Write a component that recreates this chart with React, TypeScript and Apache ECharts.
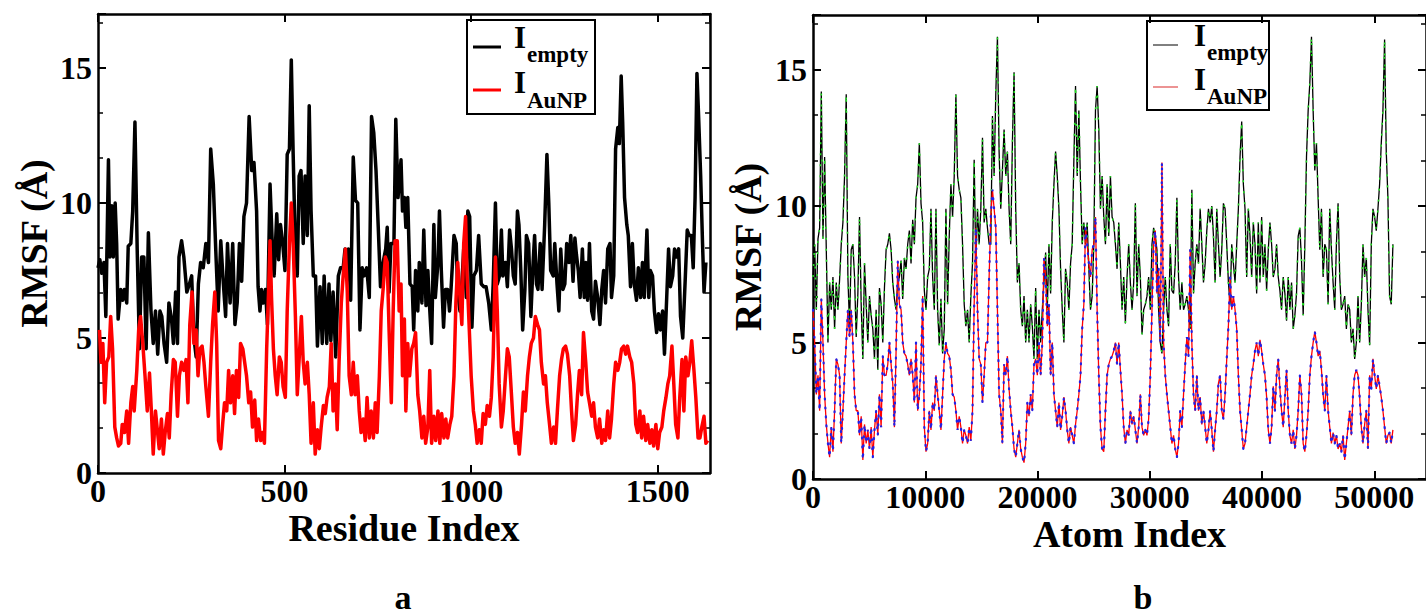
import React, { useEffect, useRef } from 'react';
import * as echarts from 'echarts';

// ---------- Panel a : RMSF per residue ----------
const residueEmpty: [number, number][] = [
  [0,7.6],[5,7.9],[10,7.4],[16,7.8],[21,5.8],[28,11.6],[32,8.0],[37,9.9],[41,8.0],[46,10.0],[50,8.5],[54,5.7],[61,6.8],[66,6.4],[71,6.8],[77,6.3],[81,8.4],[88,8.5],[93,9.7],[99,13.0],
  [105,8.3],[111,4.6],[117,8.0],[123,8.0],[129,4.6],[135,8.9],[142,6.0],[148,4.8],[154,6.0],[160,4.4],[166,6.0],[171,5.8],[177,4.8],[184,4.1],[190,6.3],[197,5.7],[202,4.8],[208,6.7],[213,4.8],[217,8.0],
  [224,8.6],[230,8.0],[238,6.7],[245,7.0],[251,7.3],[257,5.0],[263,4.3],[269,7.0],[275,7.8],[282,7.6],[289,8.5],[296,7.8],[302,12.0],[309,10.7],[316,8.1],[322,6.0],[329,8.6],[336,7.0],[342,5.8],[347,8.5],
  [354,6.3],[361,8.5],[367,5.5],[373,6.3],[379,8.5],[385,7.1],[391,9.5],[398,10.0],[405,13.2],[412,11.2],[418,11.5],[425,9.7],[429,6.9],[434,6.0],[438,6.8],[443,6.3],[449,6.8],[454,5.5],[461,10.7],[467,8.5],
  [472,7.3],[479,9.6],[484,7.9],[489,9.2],[495,8.5],[501,7.5],[507,11.8],[513,12.0],[518,15.3],[523,11.8],[528,8.8],[534,7.3],[539,11.0],[544,11.2],[550,8.5],[555,11.0],[561,8.8],[566,13.6],[571,9.7],[577,7.3],
  [583,7.3],[588,4.7],[595,6.9],[601,4.8],[606,7.3],[613,4.8],[619,7.0],[624,4.9],[630,6.7],[637,4.3],[644,7.3],[650,7.6],[657,7.6],[662,8.3],[666,7.3],[671,8.3],[677,6.4],[684,11.7],[690,10.1],[696,10.0],
  [702,5.3],[708,7.6],[713,7.3],[720,7.6],[727,6.5],[733,13.2],[739,12.6],[745,11.2],[751,9.1],[757,6.9],[764,7.8],[771,8.3],[775,9.1],[780,6.7],[785,8.5],[793,8.5],[798,13.1],[804,10.2],
  [812,11.6],[816,9.7],[821,10.2],[825,9.1],[830,10.2],[836,7.0],[842,6.9],[846,5.3],[851,7.5],[857,6.0],[861,7.8],[868,6.3],[873,9.0],[879,6.2],[884,7.5],[888,6.3],[894,4.8],[900,9.2],[904,6.5],[911,7.8],
  [915,9.7],[920,7.5],[926,5.4],[931,6.8],[937,6.8],[942,6.0],[946,6.8],[954,8.8],[960,8.5],[964,6.7],[970,6.0],[975,7.0],[980,8.3],[987,6.5],[991,9.7],[996,9.5],[1002,5.4],[1007,7.3],[1014,7.5],[1020,8.8],
  [1027,7.0],[1034,6.9],[1040,6.9],[1047,6.3],[1054,5.3],[1059,7.0],[1065,10.0],[1070,7.0],[1076,7.3],[1081,9.0],[1085,7.3],[1092,7.8],[1097,6.9],[1103,9.0],[1108,8.3],[1113,7.3],[1118,7.0],[1124,9.7],[1128,9.2],[1133,7.5],
  [1138,5.3],[1144,6.8],[1148,8.8],[1154,8.5],[1160,5.8],[1166,7.8],[1170,8.8],[1175,7.0],[1179,6.8],[1185,8.5],[1190,6.8],[1197,9.2],[1203,11.8],[1208,10.0],[1213,7.5],[1220,7.3],[1224,8.5],[1230,7.0],[1235,6.0],[1240,8.3],
  [1246,6.8],[1251,7.0],[1256,8.5],[1262,7.8],[1267,8.8],[1273,7.1],[1278,8.7],[1282,8.1],[1287,7.5],[1292,6.5],[1298,8.3],[1303,6.5],[1307,7.8],[1312,6.4],[1317,8.5],[1323,6.0],[1328,5.7],[1333,7.1],[1339,6.5],[1345,5.5],
  [1350,6.8],[1355,7.5],[1360,6.3],[1366,8.3],[1372,8.5],[1376,6.5],[1382,7.3],[1387,12.0],[1393,12.8],[1397,12.2],[1402,14.7],[1406,13.0],[1411,10.2],[1417,9.2],[1421,8.8],[1427,6.9],[1432,8.5],[1437,7.0],[1443,6.4],[1448,7.6],
  [1454,6.5],[1459,7.8],[1464,6.5],[1471,9.0],[1476,6.5],[1480,7.5],[1486,7.3],[1491,6.0],[1497,5.2],[1502,5.9],[1507,5.3],[1513,6.0],[1518,4.4],[1524,6.5],[1529,8.3],[1534,6.9],[1540,7.3],[1545,8.3],[1550,8.0],[1556,8.3],
  [1561,5.8],[1567,5.0],[1574,7.3],[1579,9.0],[1584,8.8],[1590,8.8],[1595,7.6],[1600,10.2],[1605,14.8],[1609,13.4],[1615,11.0],[1620,8.5],[1624,6.7],[1629,7.8],
];

const residueAuNP: [number, number][] = [
  [4,5.3],[8,4.1],[13,4.8],[18,2.6],[23,4.1],[29,4.3],[34,5.8],[39,4.6],[45,1.7],[50,1.3],[55,1.0],[61,1.1],[65,1.8],[71,1.5],[77,2.3],[82,1.1],[88,2.6],[93,3.2],[97,2.3],[104,3.8],
  [109,5.3],[114,5.8],[120,4.8],[126,3.6],[132,2.3],[138,3.7],[143,2.3],[148,0.7],[154,2.3],[159,1.6],[164,0.9],[170,2.0],[175,0.7],[180,1.5],[186,2.2],[191,1.3],[196,2.9],[202,4.2],[207,4.1],[213,2.1],
  [218,3.6],[224,4.1],[230,3.8],[236,4.2],[241,2.6],[246,5.5],[252,6.7],[257,4.8],[263,5.3],[268,3.6],[273,4.6],[279,4.7],[284,4.1],[289,3.2],[296,2.1],[302,4.1],[307,5.5],[313,6.7],[318,4.8],[323,1.2],
  [329,0.9],[334,1.8],[339,2.6],[345,2.3],[350,3.8],[355,2.6],[361,3.6],[366,2.2],[371,3.8],[377,2.8],[382,4.8],[388,4.6],[393,4.1],[398,3.6],[404,2.6],[409,3.0],[414,1.7],[420,2.7],[425,1.2],[430,2.0],
  [436,1.2],[441,1.5],[446,1.1],[452,4.6],[457,6.7],[461,8.6],[465,6.5],[470,4.6],[475,3.6],[480,2.9],[486,4.3],[491,4.1],[496,3.2],[502,2.8],[507,6.0],[513,8.5],[518,10.0],[523,8.5],[529,5.8],[534,2.9],
  [539,4.2],[545,5.8],[550,4.1],[555,3.3],[561,4.1],[566,2.9],[571,1.1],[577,2.6],[582,0.7],[588,1.6],[593,0.9],[598,1.7],[604,2.5],[609,2.2],[614,2.8],[620,3.2],[625,4.8],[630,2.3],[636,3.3],[641,1.6],
  [646,4.1],[652,6.3],[657,7.3],[663,8.3],[668,6.7],[673,3.6],[679,2.9],[684,4.1],[689,2.9],[695,3.6],[700,2.3],[705,1.5],[711,2.0],[716,1.2],[721,2.8],[727,1.3],[732,2.3],[738,1.3],[743,2.6],[748,1.5],
  [754,3.6],[759,6.0],[764,6.8],[770,8.0],[775,7.8],[780,5.3],[786,2.6],[791,6.0],[796,8.6],[802,8.6],[807,6.0],
  [812,7.0],[816,3.6],[821,5.7],[825,2.3],[830,4.8],[835,3.6],[841,4.6],[846,4.8],[851,5.2],[857,2.9],[862,2.3],[868,1.3],[873,2.1],[878,1.1],[884,1.7],[889,3.8],[894,1.1],[900,2.1],[905,1.2],[911,2.3],
  [916,1.1],[921,2.2],[927,1.3],[932,2.0],[937,1.3],[943,1.8],[948,2.1],[954,3.6],[959,6.3],[964,7.8],[970,6.5],[975,5.5],[980,8.5],[985,9.5],[989,7.3],[995,5.3],[1000,3.6],[1006,2.3],[1011,1.8],[1016,1.1],
  [1022,1.6],[1027,1.1],[1032,2.2],[1038,1.8],[1043,2.5],[1049,2.1],[1054,2.8],[1059,4.3],[1065,8.0],[1070,6.0],[1075,3.3],[1081,1.7],[1086,2.3],[1092,3.6],[1097,4.6],[1102,4.3],[1108,2.9],[1113,1.7],[1118,1.1],[1124,1.5],
  [1129,0.7],[1135,1.8],[1140,3.0],[1145,2.3],[1151,3.6],[1156,4.3],[1161,4.8],[1167,5.0],[1172,5.8],[1178,5.5],[1183,5.3],[1188,4.1],[1194,3.3],[1199,3.6],[1204,2.6],[1210,1.8],[1215,1.1],[1221,1.7],[1226,1.1],[1231,2.3],
  [1237,3.6],[1242,4.2],[1247,4.6],[1253,4.7],[1258,4.4],[1264,3.6],[1269,2.3],[1274,1.2],[1280,1.8],[1285,2.9],[1290,3.8],[1296,2.9],[1301,5.2],[1307,4.1],[1312,3.0],[1317,2.6],[1323,2.1],[1328,2.6],[1333,1.7],[1339,1.3],
  [1344,2.0],[1350,1.1],[1355,1.6],[1360,1.2],[1366,2.3],[1371,1.3],[1376,2.0],[1382,3.3],[1387,4.1],[1393,3.8],[1398,4.1],[1403,4.6],[1409,4.7],[1414,4.4],[1419,4.7],[1425,4.3],[1430,4.1],[1436,3.3],[1441,1.8],[1446,1.5],
  [1452,2.3],[1457,1.3],[1462,2.1],[1468,1.2],[1473,1.8],[1479,1.1],[1484,1.6],[1489,1.0],[1495,1.8],[1500,0.9],[1505,1.5],[1511,1.7],[1516,2.3],[1522,2.8],[1527,3.3],[1532,3.6],[1538,4.7],[1543,3.3],[1548,1.8],[1554,1.3],
  [1559,2.8],[1565,4.2],[1570,2.3],[1575,4.3],[1581,3.6],[1586,4.1],[1591,4.9],[1597,3.8],[1602,2.8],[1608,1.3],[1613,1.3],[1618,1.7],[1624,2.1],[1629,1.1],[1634,1.2],
];

// ---------- Panel b : RMSF per atom (sampled every ATOM_STEP atoms) ----------
const ATOM_STEP = 148;
const atomEmpty: number[] = [
  7.4,8.6,6.2,8.8,9.2,14.2,8.8,11.8,8.4,5.0, 7.2,6.2,7.4,5.5,7.2,6.2,7.3,8.6,9.4,11.1,
  14.1,7.4,5.6,8.4,8.6,7.4,5.2,6.8,9.6,6.4, 4.4,7.9,6.4,5.0,6.7,6.0,5.5,4.4,6.2,4.0,
  7.0,6.4,5.0,7.0,8.4,8.6,9.0,8.4,7.2,6.6, 6.2,7.2,7.4,8.0,6.6,8.1,7.7,8.6,9.1,7.9,
  9.5,8.6,10.3,10.8,12.3,10.1,9.4,6.9,6.2,7.4, 7.7,9.9,7.4,6.2,9.9,6.2,4.9,6.6,4.6,5.5,
  9.9,6.4,8.9,10.8,9.6,11.1,14.1,11.1,10.6,10.3, 8.6,6.4,5.6,6.2,5.0,6.7,7.9,11.7,7.9,9.9,
  8.6,9.9,12.5,9.4,9.9,9.2,8.6,8.6,13.3,11.1, 14.1,16.2,12.0,9.9,11.3,12.8,11.1,12.0,9.9,8.6,
  12.3,14.9,9.9,7.2,7.9,6.2,5.6,6.7,5.0,6.2, 5.0,6.4,5.6,4.4,7.0,4.4,6.2,5.0,6.2,7.2,
  8.3,6.2,8.6,6.8,9.4,10.8,12.0,11.1,9.9,7.7, 6.2,5.0,7.7,7.2,6.2,7.9,8.6,11.7,14.4,11.1,
  13.5,10.8,8.6,9.4,8.6,9.4,7.7,6.2,6.7,8.6, 13.5,14.4,12.8,9.9,11.1,9.6,8.6,10.8,8.9,11.1,
  9.6,9.4,8.6,7.7,9.4,
  7.9,6.2,7.4,5.7,7.4,8.6,7.2,6.2,7.2,10.1, 6.7,8.6,7.4,5.3,6.2,6.4,6.7,7.4,6.2,8.6,
  9.2,8.9,8.4,6.2,5.0,4.6,6.2,7.4,6.2,5.6, 8.6,6.9,6.8,7.9,10.3,7.4,6.2,7.2,6.2,6.4,
  6.7,6.2,5.5,10.6,6.8,7.9,8.6,7.9,9.9,8.6, 7.2,7.9,9.1,9.9,9.4,10.0,8.9,7.2,9.9,8.6,
  7.4,8.4,10.1,9.9,8.6,7.2,6.4,8.6,7.9,7.2, 8.6,9.9,11.8,13.1,10.8,9.9,7.4,9.9,8.9,7.4,
  9.4,8.6,6.8,9.4,7.2,9.6,7.4,8.6,6.9,8.4, 9.4,8.6,7.4,7.7,8.6,7.4,6.9,6.2,7.4,6.8,
  5.8,7.4,6.2,7.2,5.5,6.0,6.8,8.9,9.2,8.0, 6.0,8.6,11.8,13.5,14.5,16.2,13.5,11.3,12.3,10.3,
  8.4,9.9,7.4,8.6,8.4,6.4,9.9,8.4,7.2,6.2, 8.6,10.1,7.4,6.2,6.4,6.7,5.5,6.4,6.2,5.0,
  5.5,4.4,5.0,6.7,5.0,6.4,8.6,7.4,8.1,6.2, 4.9,8.6,9.9,9.6,9.1,9.9,10.8,12.3,13.5,16.1,
  12.0,10.3,6.7,6.4,8.6,
];

const atomAuNP: number[] = [
  6.2,5.0,3.1,3.8,2.5,6.6,5.0,3.1,2.0,1.3, 0.8,1.9,1.0,2.5,4.4,4.2,3.8,1.3,2.5,3.8,
  5.0,6.2,5.2,6.2,5.0,3.1,2.5,2.5,1.6,2.3, 0.7,2.0,1.3,1.8,1.1,1.9,0.8,1.8,2.5,1.6,
  3.1,1.9,4.5,3.8,3.8,4.2,5.0,4.2,3.5,1.9, 4.7,8.0,6.4,6.2,5.0,4.6,4.5,4.2,3.8,4.4,
  3.8,2.8,5.0,2.5,3.1,4.2,6.7,1.9,1.0,1.3, 2.5,1.8,2.8,2.5,3.8,3.1,2.5,1.8,3.1,4.4,
  5.0,4.6,4.5,4.0,3.1,3.0,2.5,1.8,2.3,1.9, 1.3,1.8,1.6,1.3,1.9,1.4,2.5,6.4,9.2,6.2,
  4.4,4.2,2.8,3.8,5.0,5.0,7.4,9.6,10.6,9.9, 9.2,6.2,3.1,2.5,1.3,4.2,3.8,4.5,3.3,2.5,
  1.9,1.1,0.8,1.3,1.8,1.1,0.8,0.6,1.3,2.8, 2.3,3.1,2.5,4.2,4.4,3.8,5.0,3.8,5.0,8.1,
  7.4,5.6,6.4,3.8,5.0,3.1,2.5,1.9,2.8,1.8, 2.3,3.0,2.5,1.8,1.3,1.9,1.6,1.3,2.0,2.5,
  3.1,3.8,5.5,6.4,9.2,8.6,7.9,7.4,8.4,8.6, 9.6,6.2,3.8,1.9,1.1,1.0,2.5,3.8,4.2,4.4,
  4.5,4.7,5.0,4.2,5.0,
  4.0,3.1,1.9,1.3,1.8,1.6,2.5,2.0,2.3,1.8, 1.3,1.9,3.1,1.9,1.6,1.8,1.6,2.2,3.8,6.2,
  8.6,9.1,6.8,7.7,5.0,11.6,5.0,3.8,3.1,2.5, 1.9,1.3,1.6,1.1,0.8,1.3,2.5,1.9,3.1,4.2,
  5.2,4.5,8.4,5.0,3.1,2.5,3.8,2.5,3.0,2.0, 2.5,1.9,1.3,1.8,2.5,1.8,1.0,1.8,2.5,3.5,
  3.8,2.5,2.2,3.1,4.4,5.6,7.4,6.2,6.7,6.2, 5.5,3.8,2.5,1.8,1.1,1.3,1.9,2.5,3.1,3.8,
  4.2,4.7,5.0,4.5,5.1,4.7,4.2,3.8,3.0,1.8, 1.3,1.9,3.4,2.5,3.8,4.4,3.3,2.5,1.9,3.0,
  4.0,2.5,1.6,1.3,1.8,1.1,1.6,2.5,3.8,3.1, 1.3,1.0,1.6,2.5,3.8,4.5,5.0,5.4,5.0,4.5,
  4.7,4.0,3.1,2.5,3.8,2.5,1.9,1.3,1.7,1.3, 1.6,1.1,1.3,1.0,1.6,0.7,1.3,1.9,2.5,1.6,
  3.1,3.8,4.0,3.8,3.0,1.9,1.3,2.0,2.5,1.1, 3.8,3.3,4.4,3.8,3.3,3.8,3.4,3.0,2.5,1.9,
  1.3,1.6,1.7,1.3,1.8,
];

// axis settings (data units)
const RES_MAX = 1640;
const RES_INTERVAL = 500;
const ATOM_MAX = 54600;
const ATOM_INTERVAL = 10000;
const RMSF_MAX = 17;
const RMSF_INTERVAL = 5;

const FONT = "'Liberation Serif', 'Times New Roman', serif";

function xAxis(gridIndex: number, max: number, interval: number, position: 'top' | 'bottom', name?: string, namePadLeft = 0) {
  return {
    type: 'value', gridIndex, min: 0, max, interval, position,
    name: name || '', nameLocation: 'middle', nameGap: 40, nameMoveOverlap: false,
    nameTextStyle: { fontFamily: FONT, fontWeight: 'bold', fontSize: 38, lineHeight: 30, color: '#000', padding: [0, 0, 0, namePadLeft] },
    axisLine: { show: true, onZero: false, lineStyle: { color: '#000', width: 2.5 } },
    axisTick: { show: true, inside: true, length: 8, lineStyle: { color: '#000', width: 2 } },
    axisLabel: {
      show: position === 'bottom', showMaxLabel: false, margin: 6, lineHeight: 24, color: '#000',
      fontFamily: FONT, fontWeight: 'bold', fontSize: 32, formatter: (v: number) => String(v),
    },
    splitLine: { show: false },
  };
}

function yAxis(gridIndex: number, position: 'left' | 'right', name?: string, gap = 45) {
  return {
    type: 'value', gridIndex, min: 0, max: RMSF_MAX, interval: RMSF_INTERVAL, position,
    name: name || '', nameLocation: 'middle', nameGap: gap, nameRotate: 90, nameMoveOverlap: false,
    nameTextStyle: { fontFamily: FONT, fontWeight: 'bold', fontSize: 38, color: '#000' },
    axisLine: { show: true, onZero: false, lineStyle: { color: '#000', width: 2.5 } },
    axisTick: { show: true, inside: true, length: 8, lineStyle: { color: '#000', width: 2 } },
    minorTick: { show: true, splitNumber: 3, length: 5, lineStyle: { color: '#000', width: 1.5 } },
    axisLabel: {
      show: position === 'left', showMaxLabel: false, margin: 6, color: '#000',
      fontFamily: FONT, fontWeight: 'bold', fontSize: 32, formatter: (v: number) => String(v),
    },
    splitLine: { show: false },
    minorSplitLine: { show: false },
  };
}

function legendBox(x: number, y: number, w: number, h: number, lineX1: number, lineX2: number,
  rows: { ly: number; tx: number; iy: number; sy: number; color: string; width: number; sub: string }[]) {
  const children: any[] = [
    { type: 'rect', shape: { x, y, width: w, height: h }, style: { fill: '#fff', stroke: '#000', lineWidth: 2 } },
  ];
  rows.forEach((r) => {
    children.push({ type: 'line', shape: { x1: lineX1, y1: r.ly, x2: lineX2, y2: r.ly }, style: { stroke: r.color, lineWidth: r.width } });
    children.push({
      type: 'text', x: r.tx, y: r.iy,
      style: { text: 'I', fontFamily: FONT, fontWeight: 'bold', fontSize: 31, fill: '#000', align: 'left', verticalAlign: 'middle', textAlign: 'left', textVerticalAlign: 'middle' },
    });
    children.push({
      type: 'text', x: r.tx + 13, y: r.sy,
      style: { text: r.sub, fontFamily: FONT, fontWeight: 'bold', fontSize: 23, fill: '#000', align: 'left', verticalAlign: 'middle', textAlign: 'left', textVerticalAlign: 'middle' },
    });
  });
  return { type: 'group', z: 100, children };
}

export default function App() {
  const ref = useRef<HTMLDivElement>(null);
  useEffect(() => {
    if (!ref.current) return;
    const chart = echarts.init(ref.current, null, { renderer: 'svg' });
    const bEmpty = atomEmpty.map((v, i) => [i * ATOM_STEP, v]);
    const bAuNP = atomAuNP.map((v, i) => [i * ATOM_STEP, v]);
    const option: any = {
      animation: false,
      backgroundColor: '#fff',
      textStyle: { fontFamily: FONT },
      grid: [
        { left: 98, top: 14, width: 612, height: 459 },
        { left: 813, top: 15, width: 615, height: 464 },
      ],
      xAxis: [
        xAxis(0, RES_MAX, RES_INTERVAL, 'bottom', 'Residue Index'),
        xAxis(0, RES_MAX, RES_INTERVAL, 'top'),
        xAxis(1, ATOM_MAX, ATOM_INTERVAL, 'bottom', 'Atom Index', 20),
        xAxis(1, ATOM_MAX, ATOM_INTERVAL, 'top'),
      ],
      yAxis: [
        yAxis(0, 'left', 'RMSF (Å)', 45),
        yAxis(0, 'right'),
        yAxis(1, 'left', 'RMSF (Å)', 46),
        yAxis(1, 'right'),
      ],
      series: [
        { type: 'line', name: 'I_empty a', xAxisIndex: 0, yAxisIndex: 0, data: residueEmpty, showSymbol: false, symbol: 'none',
          lineStyle: { color: '#000', width: 3.5, join: 'round' } },
        { type: 'line', name: 'I_AuNP a', xAxisIndex: 0, yAxisIndex: 0, data: residueAuNP, showSymbol: false, symbol: 'none',
          lineStyle: { color: '#ff0000', width: 3.5, join: 'round' } },
        { type: 'line', name: 'I_empty b', xAxisIndex: 2, yAxisIndex: 2, data: bEmpty, showSymbol: false, symbol: 'none',
          lineStyle: { color: '#000', width: 1.3 } },
        { type: 'line', name: 'I_empty b overlay', xAxisIndex: 2, yAxisIndex: 2, data: bEmpty, showSymbol: false, symbol: 'none',
          lineStyle: { color: '#22e022', width: 1.6, type: [2, 9] } },
        { type: 'line', name: 'I_AuNP b', xAxisIndex: 2, yAxisIndex: 2, data: bAuNP, showSymbol: false, symbol: 'none',
          lineStyle: { color: '#ff0000', width: 1.3 } },
        { type: 'line', name: 'I_AuNP b overlay', xAxisIndex: 2, yAxisIndex: 2, data: bAuNP, showSymbol: false, symbol: 'none',
          lineStyle: { color: '#2020e8', width: 2.2, type: [1, 8], cap: 'round' } },
      ],
      graphic: [
        legendBox(467, 20, 128, 94, 473, 501, [
          { ly: 47, tx: 514, iy: 37.5, sy: 54.7, color: '#000', width: 3, sub: 'empty' },
          { ly: 90, tx: 514, iy: 82.8, sy: 100.2, color: '#ff0000', width: 3, sub: 'AuNP' },
        ]),
        legendBox(1147, 21, 122, 89, 1153, 1178, [
          { ly: 45, tx: 1194, iy: 35.5, sy: 52.5, color: '#000', width: 1, sub: 'empty' },
          { ly: 87, tx: 1194, iy: 79.5, sy: 96.5, color: '#e04a4a', width: 1.2, sub: 'AuNP' },
        ]),
        { type: 'text', x: 403, y: 614, z: 100, style: { text: 'a', fontFamily: FONT, fontWeight: 'bold', fontSize: 34, fill: '#000', align: 'center', verticalAlign: 'bottom', textAlign: 'center', textVerticalAlign: 'bottom' } },
        { type: 'text', x: 1143, y: 614, z: 100, style: { text: 'b', fontFamily: FONT, fontWeight: 'bold', fontSize: 34, fill: '#000', align: 'center', verticalAlign: 'bottom', textAlign: 'center', textVerticalAlign: 'bottom' } },
      ],
    };
    chart.setOption(option);
    return () => chart.dispose();
  }, []);
  return <div ref={ref} style={{ position: 'fixed', left: 0, top: 0, width: 1426, height: 615, background: '#fff' }} />;
}
